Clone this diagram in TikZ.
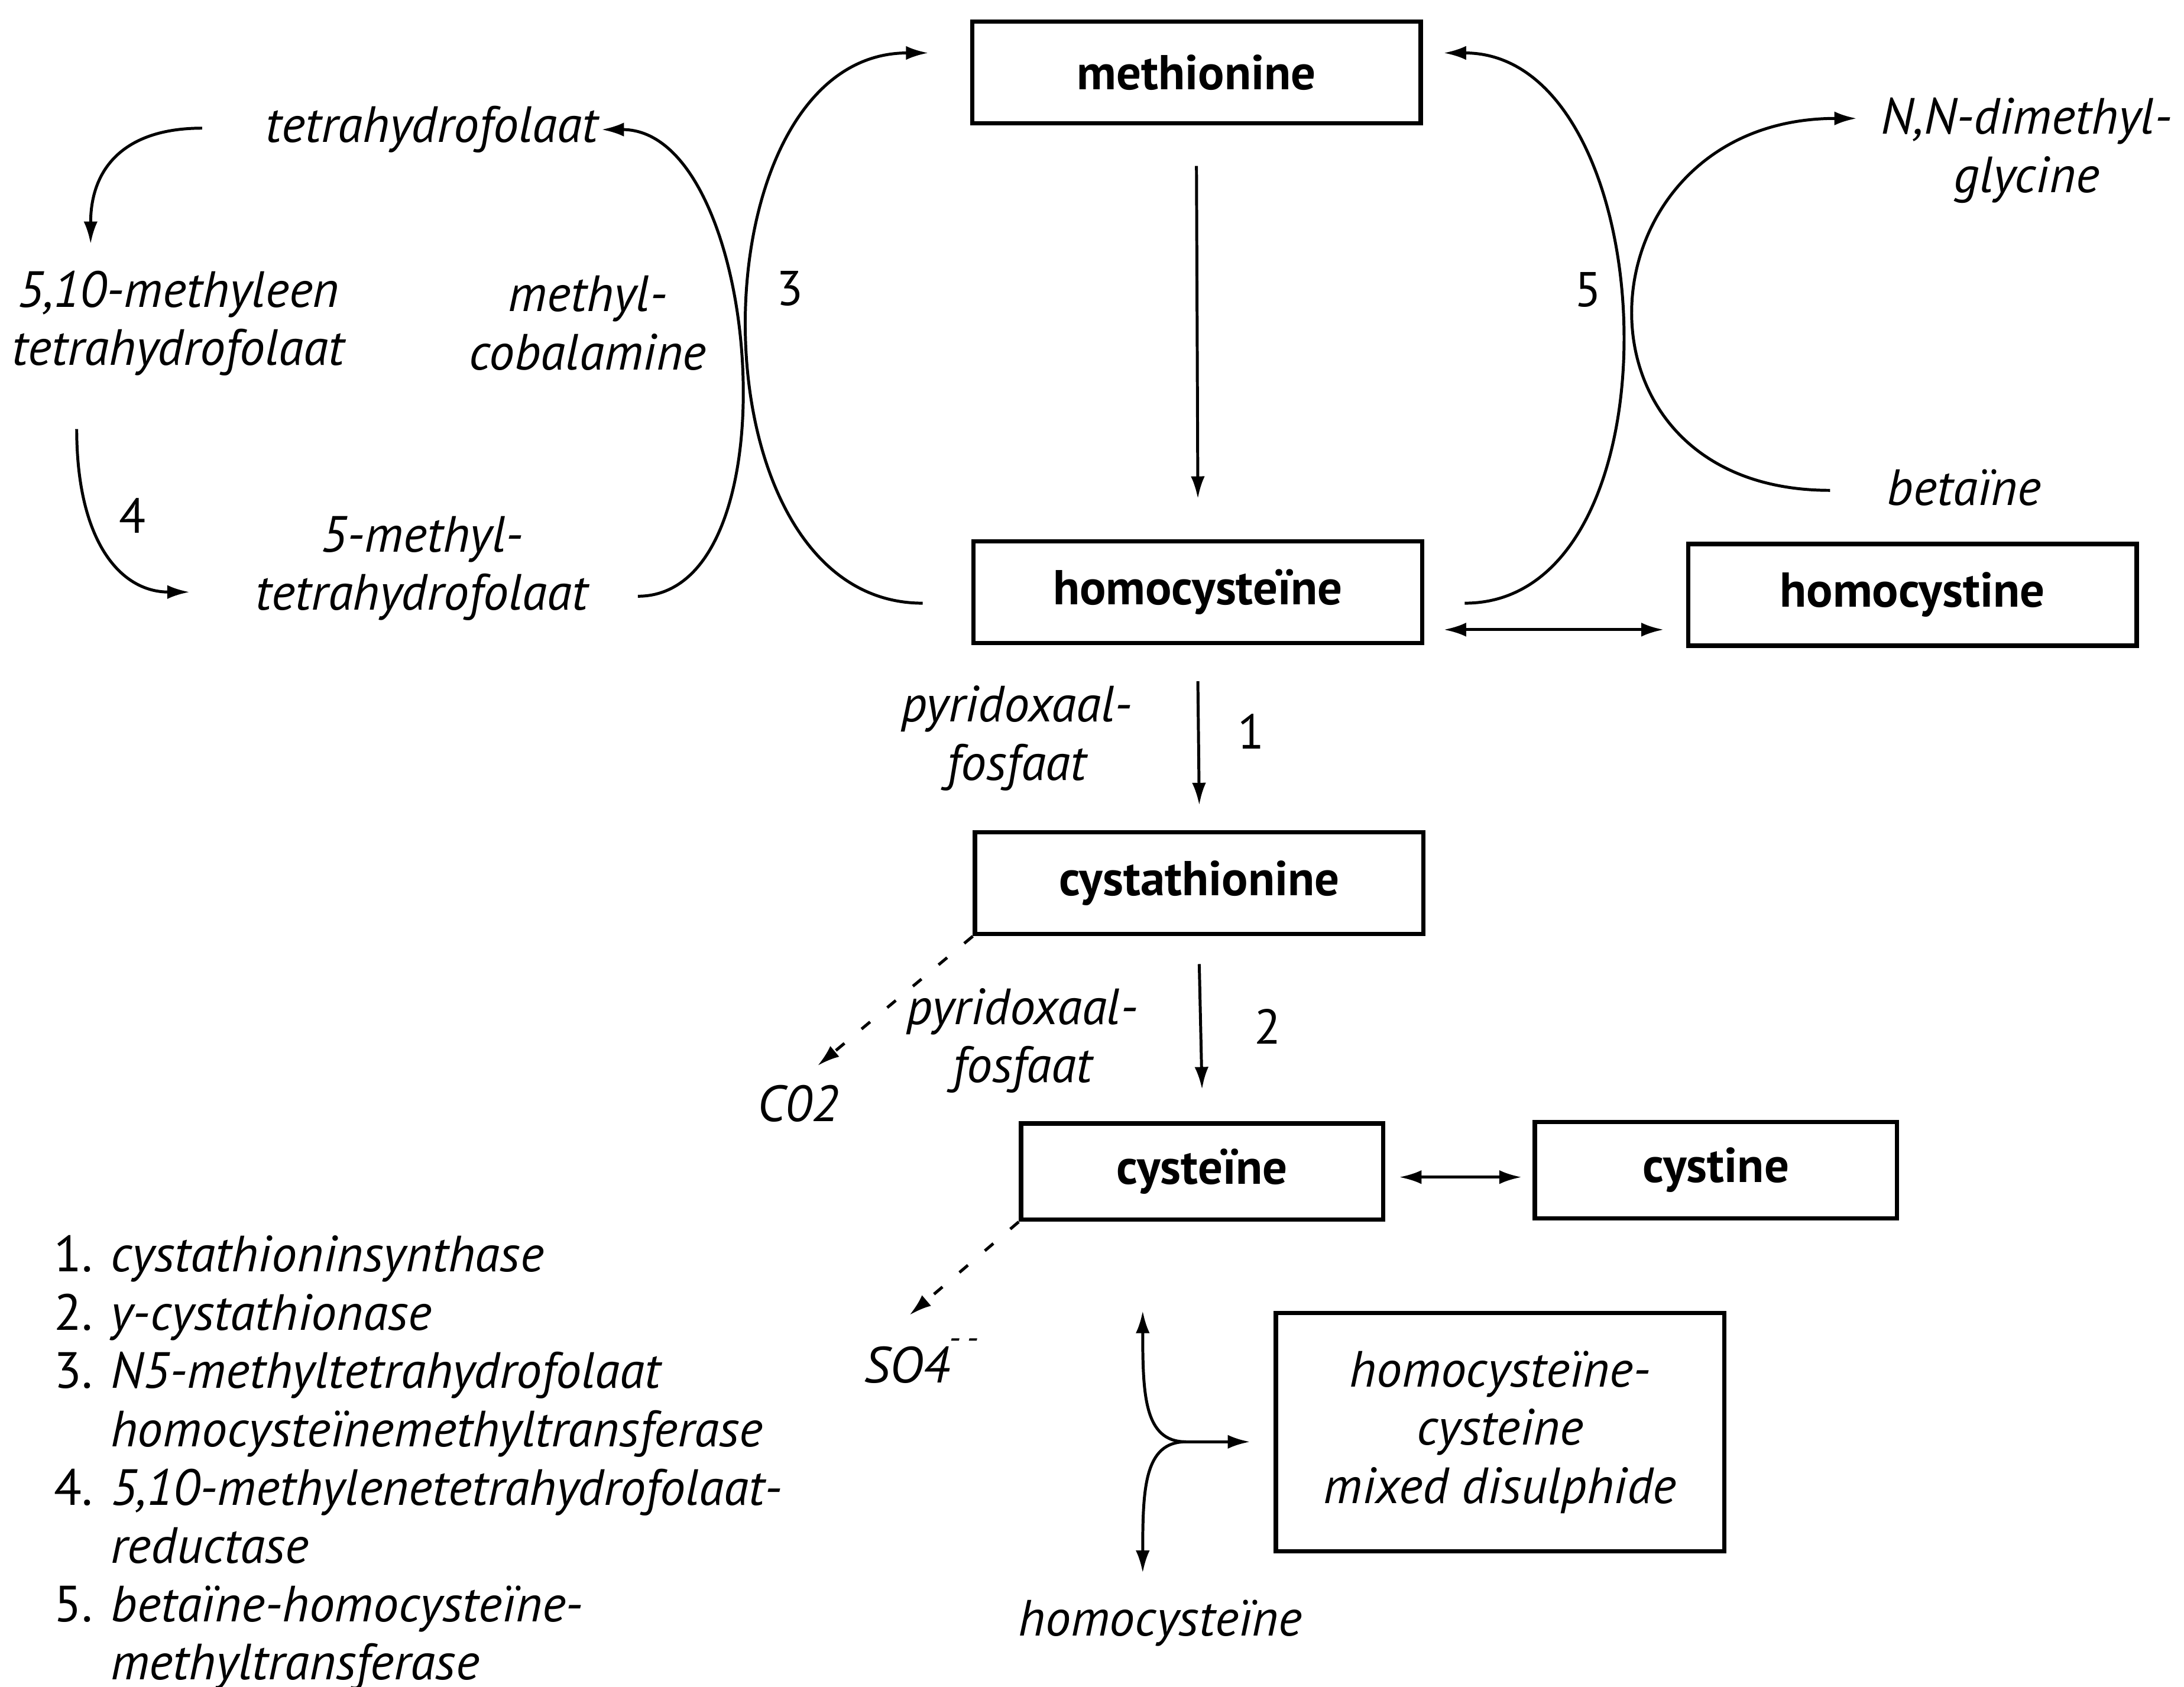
\documentclass[tikz,border=0pt]{standalone}
\usepackage{fontspec}
\setmainfont{PT Sans}
\usepackage{tikz}
\usetikzlibrary{arrows.meta}
\usetikzlibrary{calc}
\newcommand{\diagsize}{\fontsize{10}{11.9}\selectfont}
\newcommand{\italsize}{\fontsize{10.4}{11.9}\selectfont\itshape}

\begin{document}
\begin{tikzpicture}[x=0.1mm, y=-0.1mm,
 every text node part/.style={align=center},
 every node/.style={inner sep=0pt, font=\diagsize},
block/.style={rectangle, draw, line width=0.9pt, minimum width=32.2mm, minimum height=7.3mm, font=\diagsize\bfseries},
smallblock/.style={block, minimum width=26mm, minimum height=6.9mm},
str/.style={font=\italsize},
arrow/.style={-{Latex[length=1.6mm, width=1mm]}, line width=0.6pt},
dblarrow/.style={{Latex[length=1.6mm, width=1mm]}-{Latex[length=1.6mm, width=1mm]}, line width=0.6pt},
dotarrow/.style={arrow, dash pattern=on 0.8mm off 1.6mm}]

	\useasboundingbox (0,0) rectangle (1568,1211);

	\node[block] (meth) at (859,52) {methionine};
	\node[block] (homocys) at (860,425) {homocysteïne};
	\node[block] (homocystine) at (1373,427) {homocystine};
	\node[block] (cysta) at (861,634) {cystathionine};
	\node[smallblock] (cys) at (863,841) {cysteïne};
	\node[smallblock] (cystine) at (1232,840) {cystine};
	\node[block, minimum height=17.1mm, font=\italsize] (mixed) at (1077,1028) {homocysteïne-\\cysteine\\mixed disulphide};

	\node[str] (thf) at (310,93) {tetrahydrofolaat};
	\node[str] (mthf) at (128,232) {5,10-methyleen\\tetrahydrofolaat};
	\node[str] (cobal) at (422,232) {methyl-\\cobalamine};
	\node[str] (methyl5) at (303,408) {5-methyl-\\tetrahydrofolaat};
	\node[str] (dmg) at (1455,108) {N,N-dimethyl-\\glycine};
	\node[str] (betaine) at (1410,350) {betaïne};
	\node[str] (pyr1) at (730,530) {pyridoxaal-\\fosfaat};
	\node[str] (pyr2) at (734,747) {pyridoxaal-\\fosfaat};
	\node[str] (co2) at (573,792) {C02};
	\node[str] (so4) at (651,977) {SO4\rlap{\raisebox{1.3ex}{\scriptsize -\,-}}};
	\node[str] (hcys2) at (833,1165) {homocysteïne};

	\node (n1) at (898,525) {1};
	\node (n2) at (910,737) {2};
	\node (n3) at (567,207) {3};
	\node (n4) at (95,370) {4};
	\node (n5) at (1140,208) {5};

	\node[anchor=north west, font=\fontsize{10.4}{11.9}\selectfont] (legend) at (38,883) {\begin{tabular}{@{}r@{\hspace{1.3mm}}l@{}}
	1. & \itshape cystathioninsynthase\\
	2. & \itshape y-cystathionase\\
	3. & \itshape N5-methyltetrahydrofolaat\\
	   & \itshape homocysteïnemethyltransferase\\
	4. & \itshape 5,10-methylenetetrahydrofolaat-\\
	   & \itshape reductase\\
	5. & \itshape betaïne-homocysteïne-\\
	   & \itshape methyltransferase
	\end{tabular}};

	\draw[arrow] ($(meth.south)+(0,29)$) -- ($(homocys.north)+(0,-29)$);
	\draw[arrow] ($(homocys.south)+(0,26)$) -- ($(cysta.north)+(0,-18)$);
	\draw[arrow] ($(cysta.south)+(0,20)$) -- ($(cys.north)+(0,-23)$);
	\draw[dblarrow] ($(homocys.east)+(14,27)$) -- ($(homocystine.west)+(-16,25)$);
	\draw[dblarrow] ($(cys.east)+(10,4)$) -- ($(cystine.west)+(-8,5)$);
	\draw[dotarrow] (cysta.south west) -- ($(co2)+(14,-27)$);
	\draw[dotarrow] (cys.south west) -- ($(so4)+(2,-33)$);

	\draw[arrow] ($(homocys.west)+(-35,8)$) .. controls +(-170,0) and +(-170,0) .. ($(meth.west)+(-30,-14)$);
	\draw[arrow] ($(methyl5.east)+(35,20)$) .. controls +(115,0) and +(115,0) .. ($(thf.east)+(2,0)$);
	\draw[arrow] ($(thf.west)+(-45,-1)$) .. controls +(-55,0) and +(0,-55) .. ($(mthf.west)+(57,-57)$);
	\draw[arrow] ($(mthf.west)+(47,76)$) .. controls +(0,80) and +(-50,0) .. ($(methyl5.west)+(-47,17)$);
	\draw[arrow] ($(homocys.east)+(29,8)$) .. controls +(160,0) and +(160,0) .. ($(meth.east)+(15,-14)$);
	\draw[arrow] ($(betaine.west)+(-40,2)$) .. controls +(-200,0) and +(-200,0) .. ($(dmg.west)+(-17,-23)$);

	\coordinate (yj) at ($(mixed.west)+(-63,7)$);
	\coordinate (ytop) at ($(yj)+(-31,-94)$);
	\coordinate (ybot) at ($(yj)+(-31,94)$);
	\draw[arrow] (yj) .. controls +(-30,0) and +(0,60) .. (ytop);
	\draw[arrow] (yj) .. controls +(-30,0) and +(0,-60) .. (ybot);
	\draw[arrow] (yj) -- ($(mixed.west)+(-17,7)$);
\end{tikzpicture}
\end{document}
